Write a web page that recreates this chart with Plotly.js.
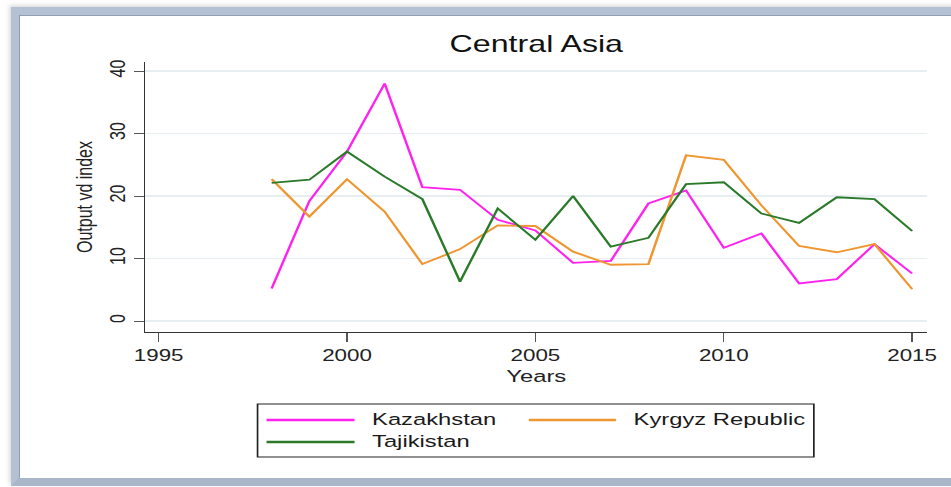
<!DOCTYPE html>
<html>
<head>
<meta charset="utf-8">
<script src="https://cdn.plot.ly/plotly-3.0.1.min.js"></script>
<style>
  html, body { margin: 0; padding: 0; background: #ffffff; overflow: hidden; }
  #wrap { position: relative; width: 951px; height: 487px; background: #ffffff; overflow: hidden; }
  #frame {
    position: absolute; left: 11px; top: 7px; width: 960px; height: 463px;
    border-left: 8px solid #b4c0d3; border-top: 8px solid #b4c0d3; border-bottom: 8px solid #a9b6ca;
    box-shadow: -2px -2px 4px rgba(120,120,120,0.25), inset 1px 1px 0 #8f9db3;
    background: #ffffff; box-sizing: content-box;
  }
  #chart { position: absolute; left: 0; top: 0; width: 680px; height: 487px;
           transform-origin: 0 0; transform: scaleX(1.3985); }
</style>
</head>
<body>
<div id="wrap">
  <div id="frame"></div>
  <div id="chart"></div>
</div>
<script>
// ---- data ----
var years = [1998, 1999, 2000, 2001, 2002, 2003, 2004, 2005, 2006, 2007, 2008, 2009, 2010, 2011, 2012, 2013, 2014, 2015];
var kazakhstan = [5.2, 19.2, 27.1, 38.0, 21.4, 21.0, 16.2, 14.5, 9.3, 9.6, 18.8, 20.9, 11.7, 14.0, 6.0, 6.7, 12.3, 7.6];
var kyrgyz = [22.7, 16.7, 22.7, 17.5, 9.1, 11.5, 15.3, 15.2, 11.1, 9.0, 9.1, 26.5, 25.8, 18.5, 12.0, 11.0, 12.3, 5.1];
var tajikistan = [22.1, 22.6, 27.1, 23.1, 19.5, 6.3, 18.0, 13.0, 20.0, 11.9, 13.3, 21.9, 22.2, 17.2, 15.7, 19.8, 19.5, 14.4];
var seriesNames = ["Kazakhstan", "Kyrgyz Republic", "Tajikistan"];
var seriesColors = ["#ff22ee", "#ee962f", "#2a7a2a"];
var xTickVals = [1995, 2000, 2005, 2010, 2015];
var yTickVals = [0, 10, 20, 30, 40];
var chartTitle = "Central Asia";
var xTitle = "Years";
var yTitle = "Output vd index";

var FONT = "Liberation Sans, Arial, sans-serif";
var seriesValues = [kazakhstan, kyrgyz, tajikistan];

var traces = seriesValues.map(function (vals, i) {
  return {
    x: years, y: vals, type: "scatter", mode: "lines",
    name: seriesNames[i],
    line: { color: seriesColors[i], width: 1.8 },
    showlegend: false, hoverinfo: "skip"
  };
});

// custom legend (long line samples like the reference)
var legendRows = [
  { x0: 0.1549, x1: 0.2675, tx: 0.2856, y: -0.3259 },
  { x0: 0.4904, x1: 0.6018, tx: 0.6209, y: -0.3259 },
  { x0: 0.1549, x1: 0.2675, tx: 0.2856, y: -0.4074 }
];
var shapes = [{
  type: "rect", xref: "paper", yref: "paper",
  x0: 0.1434, x1: 0.855, y0: -0.2667, y1: -0.463,
  line: { color: "#222222", width: 1.2 }, fillcolor: "rgba(0,0,0,0)"
}];
var annotations = [];
seriesNames.forEach(function (nm, i) {
  var r = legendRows[i];
  shapes.push({
    type: "line", xref: "paper", yref: "paper",
    x0: r.x0, x1: r.x1, y0: r.y, y1: r.y,
    line: { color: seriesColors[i], width: 2.5 }
  });
  annotations.push({
    xref: "paper", yref: "paper", x: r.tx, y: r.y,
    xanchor: "left", yanchor: "middle", showarrow: false,
    text: nm, font: { family: FONT, size: 17, color: "#1a1a1a" }
  });
});

var layout = {
  width: 680, height: 487,
  margin: { l: 104.4, r: 17.1, t: 62, b: 155, pad: 0 },
  paper_bgcolor: "rgba(0,0,0,0)",
  plot_bgcolor: "rgba(0,0,0,0)",
  title: {
    text: chartTitle, x: 0.5, xref: "paper", xanchor: "center",
    y: 0.9097, yref: "container", yanchor: "middle",
    font: { family: FONT, size: 23, color: "#111111" }
  },
  xaxis: {
    range: [1994.65, 2015.4], tickvals: xTickVals,
    ticks: "outside", ticklen: 9, tickcolor: "#555555", tickwidth: 1,
    showline: true, linecolor: "#333333", linewidth: 1,
    showgrid: false, zeroline: false,
    tickfont: { family: FONT, size: 16, color: "#222222" },
    title: { text: xTitle, standoff: 6, font: { family: FONT, size: 17, color: "#222222" } }
  },
  yaxis: {
    range: [-1.76, 41.44], tickvals: yTickVals, tickangle: -90,
    ticks: "outside", ticklen: 7, tickcolor: "#555555", tickwidth: 1,
    showline: true, linecolor: "#333333", linewidth: 1,
    showgrid: true, gridcolor: "#e6eef2", gridwidth: 1.5, zeroline: false,
    ticklabelstandoff: 0,
    tickfont: { family: FONT, size: 16, color: "#222222" },
    title: { text: yTitle, standoff: 5, font: { family: FONT, size: 16, color: "#222222" } }
  },
  shapes: shapes,
  annotations: annotations,
  showlegend: false
};

Plotly.newPlot("chart", traces, layout, { staticPlot: true, displayModeBar: false });
</script>
</body>
</html>
